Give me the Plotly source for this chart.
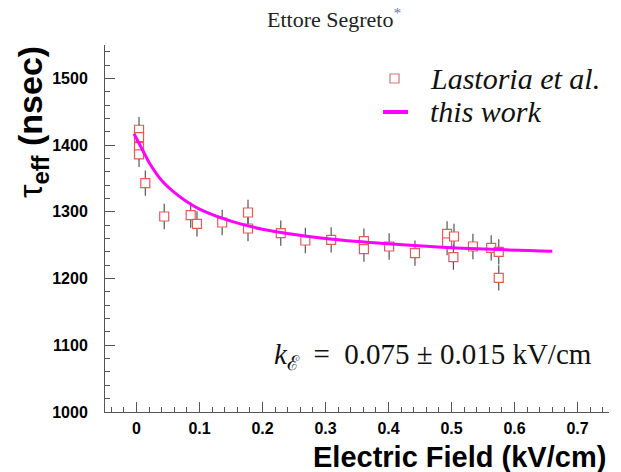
import plotly.graph_objects as go

# Lastoria et al. data
field_kv_cm = [0.004, 0.004, 0.004, 0.004, 0.014, 0.044, 0.086, 0.096, 0.136, 0.177, 0.177,
               0.229, 0.268, 0.309, 0.361, 0.361, 0.401, 0.442, 0.493, 0.493, 0.504, 0.503,
               0.534, 0.563, 0.575, 0.575]
tau_nsec = [1423, 1412, 1397, 1386, 1343, 1293, 1295, 1282, 1284, 1299, 1275,
            1268, 1257, 1258, 1256, 1244, 1248, 1238, 1267, 1254, 1263, 1232,
            1248, 1246, 1240, 1201]
tau_err = [19, 19, 19, 19, 19, 19, 19, 19, 19, 19, 19,
           19, 19, 19, 19, 19, 20, 19, 19, 19, 19, 19,
           19, 19, 19, 19]

# "this work" curve
fit_field = [-0.004, 0.01, 0.02, 0.04, 0.06, 0.08, 0.10, 0.15, 0.20, 0.30, 0.40, 0.50, 0.66]
fit_tau = [1417, 1392, 1374, 1347, 1329, 1315, 1304, 1286, 1274, 1260, 1252, 1246, 1241]

x_ticks = [0, 0.1, 0.2, 0.3, 0.4, 0.5, 0.6, 0.7]
y_ticks = [1000, 1100, 1200, 1300, 1400, 1500]

L, R, T, B = 105, 12, 45, 60
PW, PH = 621 - L - R, 472 - T - B


def px(x):
    return (x - L) / PW


def py(y):
    return (472 - B - y) / PH


fig = go.Figure()
fig.add_trace(go.Scatter(
    x=field_kv_cm, y=tau_nsec, mode="markers", name="Lastoria et al.",
    error_y=dict(type="data", array=tau_err, color="#555555", thickness=1.2, width=0),
    marker=dict(symbol="square", size=9, color="white",
                line=dict(color="rgb(228,90,90)", width=1.2)),
    showlegend=False,
))
fig.add_trace(go.Scatter(
    x=fit_field, y=fit_tau, mode="lines", name="this work",
    line=dict(color="#ff00ff", width=3, shape="spline"),
    showlegend=False,
))

axis_common = dict(
    showgrid=False, zeroline=False, showline=True, linecolor="#555", linewidth=1,
    ticks="inside", ticklen=10, tickcolor="#555", tickwidth=1,
    tickfont=dict(family="Liberation Sans", size=16, color="black", weight="bold"),
    mirror=False,
)
fig.update_xaxes(range=[-0.05, 0.75], tickvals=x_ticks, ticktext=[str(v) for v in x_ticks],
                 minor=dict(ticks="inside", ticklen=5, dtick=0.02, tick0=0, tickcolor="#555"),
                 ticklabelstandoff=2, **axis_common)
fig.update_yaxes(range=[1000, 1550], tickvals=y_ticks,
                 minor=dict(ticks="inside", ticklen=5, dtick=20, tick0=1000, tickcolor="#555"),
                 ticklabelstandoff=13, **axis_common)

annotations = [
    dict(text="Ettore Segreto<sup><span style='color:#6677aa'>*</span></sup>", xref="paper", yref="paper",
         x=px(334), y=py(18), xanchor="center", yanchor="middle",
         showarrow=False, font=dict(family="Liberation Serif", size=22, color="#222")),
    dict(text="Electric Field (kV/cm)", xref="paper", yref="paper",
         x=px(608), y=py(457), xanchor="right", yanchor="middle",
         showarrow=False, font=dict(family="Liberation Sans", size=29, color="black", weight="bold")),
    dict(text="τ<sub><b>eff</b></sub><b> (nsec)</b>", xref="paper", yref="paper",
         x=px(32), y=py(44), xanchor="center", yanchor="top", textangle=-90,
         showarrow=False, font=dict(family="Liberation Sans", size=34, color="black")),
    dict(text="<i>k</i><sub>ℰ</sub>  =  0.075 ± 0.015 kV/cm", xref="paper", yref="paper",
         x=px(594), y=py(356), xanchor="right", yanchor="middle",
         showarrow=False, font=dict(family="Liberation Serif", size=29, color="#111")),
    dict(text="<i>Lastoria et al.</i>", xref="paper", yref="paper",
         x=px(428), y=py(78), xanchor="left", yanchor="middle",
         showarrow=False, font=dict(family="Liberation Serif", size=30, color="#111")),
    dict(text="<i>this work</i>", xref="paper", yref="paper",
         x=px(428), y=py(111), xanchor="left", yanchor="middle",
         showarrow=False, font=dict(family="Liberation Serif", size=30, color="#111")),
]

shapes = [
    dict(type="rect", xref="paper", yref="paper",
         x0=px(390), x1=px(399), y0=py(83), y1=py(74),
         line=dict(color="rgb(205,120,120)", width=1.2), fillcolor="white"),
    dict(type="line", xref="paper", yref="paper",
         x0=px(383), x1=px(408), y0=py(112), y1=py(112),
         line=dict(color="#ff00ff", width=4)),
]

fig.update_layout(
    width=621, height=472,
    margin=dict(l=L, r=R, t=T, b=B),
    paper_bgcolor="white", plot_bgcolor="white",
    annotations=annotations, shapes=shapes,
)

fig.write_html("out.html")
